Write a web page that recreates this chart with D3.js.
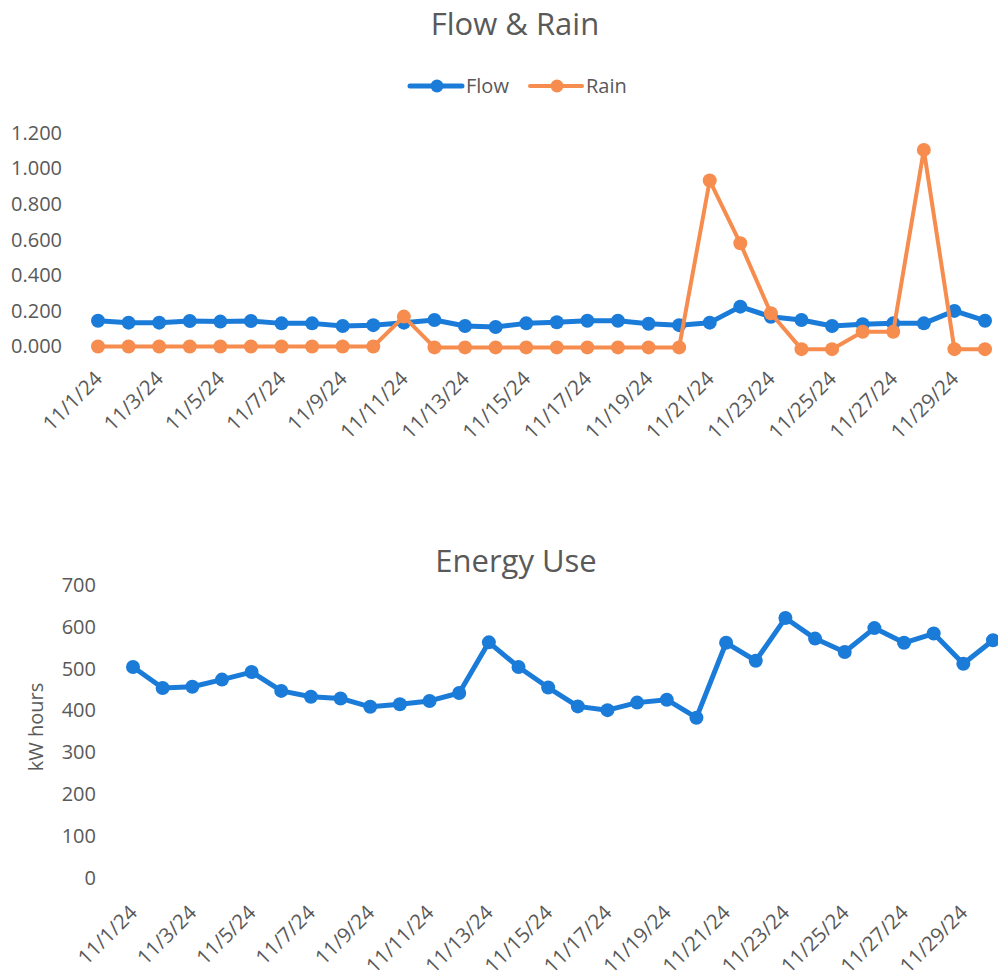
<!DOCTYPE html>
<html><head><meta charset="utf-8">
<script src="https://cdn.jsdelivr.net/npm/d3@7"></script>
<style>body{margin:0;background:#fff;} svg{display:block;font-family:"Open Sans",sans-serif;}</style>
</head><body>
<svg id="c" width="998" height="978"></svg>
<script>
const dates = ["11/1/24","11/2/24","11/3/24","11/4/24","11/5/24","11/6/24","11/7/24","11/8/24","11/9/24","11/10/24","11/11/24","11/12/24","11/13/24","11/14/24","11/15/24","11/16/24","11/17/24","11/18/24","11/19/24","11/20/24","11/21/24","11/22/24","11/23/24","11/24/24","11/25/24","11/26/24","11/27/24","11/28/24","11/29/24","11/30/24"];
const flow = [0.145,0.134,0.134,0.143,0.140,0.143,0.130,0.130,0.115,0.120,0.134,0.149,0.115,0.110,0.130,0.136,0.145,0.145,0.128,0.120,0.134,0.224,0.167,0.149,0.115,0.125,0.130,0.130,0.200,0.145];
const rain = [0,0,0,0,0,0,0,0,0,0,0.168,-0.005,-0.005,-0.005,-0.005,-0.005,-0.005,-0.005,-0.005,-0.005,0.933,0.580,0.187,-0.015,-0.015,0.083,0.083,1.105,-0.015,-0.015];
const energy = [504,454,457,474,492,447,433,429,409,415,423,442,563,504,455,410,401,419,426,383,562,519,621,572,540,597,562,584,512,568];
const flowTicks = [0,0.2,0.4,0.6,0.8,1.0,1.2];
const energyTicks = [0,100,200,300,400,500,600,700];
const tickDates = dates.filter((d,i)=>i%2===0);

const BLUE = "#1a7cd8", ORANGE = "#f68d4f", TXT = "#595959";
const svg = d3.select("#c");

// ---------- Top chart ----------
const x1 = d3.scalePoint().domain(dates).range([98, 985]);
const y1 = d3.scaleLinear().domain([0, 1.2]).range([346.5, 133]);

svg.append("text").attr("x", 515).attr("y", 35).attr("text-anchor","middle")
  .attr("font-size", 31).attr("fill", TXT).text("Flow & Rain");

// legend
const leg = [{name:"Flow", c:BLUE, w:5, x:410},{name:"Rain", c:ORANGE, w:4, x:530}];
leg.forEach(l=>{
  const g = svg.append("g");
  g.append("line").attr("x1", l.x).attr("x2", l.x+52).attr("y1", 86).attr("y2", 86)
    .attr("stroke", l.c).attr("stroke-width", l.w).attr("stroke-linecap","round");
  g.append("circle").attr("cx", l.x+27).attr("cy", 86).attr("r", 6.5).attr("fill", l.c);
  g.append("text").attr("x", l.x+56).attr("y", 93).attr("font-size", 20).attr("fill", TXT).text(l.name);
});

const yAx1 = svg.append("g").attr("transform","translate(62,0)")
  .call(d3.axisLeft(y1).tickValues(flowTicks).tickFormat(d3.format(".3f")).tickSize(0).tickPadding(0));
yAx1.select(".domain").remove();
yAx1.selectAll("text").attr("font-size", 20).attr("fill", TXT).attr("font-family","Open Sans");

const xAx1 = svg.append("g").attr("transform","translate(0,362)")
  .call(d3.axisBottom(x1).tickValues(tickDates).tickSize(0).tickPadding(0));
xAx1.select(".domain").remove();
xAx1.selectAll("text").attr("font-size", 20.5).attr("fill", TXT).attr("font-family","Open Sans")
  .attr("text-anchor","end").attr("dy", 0).attr("transform","translate(5,18) rotate(-45)");

const line1 = (arr)=>d3.line().x((d,i)=>x1(dates[i])).y(d=>y1(d))(arr);
svg.append("path").attr("d", line1(flow)).attr("fill","none").attr("stroke",BLUE).attr("stroke-width",5).attr("stroke-linejoin","round");
svg.append("g").selectAll("circle").data(flow).join("circle")
  .attr("cx",(d,i)=>x1(dates[i])).attr("cy",d=>y1(d)).attr("r",7).attr("fill",BLUE);
svg.append("path").attr("d", line1(rain)).attr("fill","none").attr("stroke",ORANGE).attr("stroke-width",4).attr("stroke-linejoin","round");
svg.append("g").selectAll("circle").data(rain).join("circle")
  .attr("cx",(d,i)=>x1(dates[i])).attr("cy",d=>y1(d)).attr("r",7).attr("fill",ORANGE);

// ---------- Bottom chart ----------
const x2 = d3.scalePoint().domain(dates).range([133, 993]);
const y2 = d3.scaleLinear().domain([0, 700]).range([878, 585]);

svg.append("text").attr("x", 516).attr("y", 572).attr("text-anchor","middle")
  .attr("font-size", 31).attr("fill", TXT).text("Energy Use");

svg.append("text").attr("transform","translate(43,727) rotate(-90)").attr("text-anchor","middle")
  .attr("font-size", 20).attr("fill", TXT).text("kW hours");

const yAx2 = svg.append("g").attr("transform","translate(96,0)")
  .call(d3.axisLeft(y2).tickValues(energyTicks).tickSize(0).tickPadding(0));
yAx2.select(".domain").remove();
yAx2.selectAll("text").attr("font-size", 20).attr("fill", TXT).attr("font-family","Open Sans");

const xAx2 = svg.append("g").attr("transform","translate(0,893)")
  .call(d3.axisBottom(x2).tickValues(tickDates).tickSize(0).tickPadding(0));
xAx2.select(".domain").remove();
xAx2.selectAll("text").attr("font-size", 20.5).attr("fill", TXT).attr("font-family","Open Sans")
  .attr("text-anchor","end").attr("dy", 0).attr("transform","translate(5,21) rotate(-45)");

const line2 = d3.line().x((d,i)=>x2(dates[i])).y(d=>y2(d));
svg.append("path").attr("d", line2(energy)).attr("fill","none").attr("stroke",BLUE).attr("stroke-width",5).attr("stroke-linejoin","round");
svg.append("g").selectAll("circle").data(energy).join("circle")
  .attr("cx",(d,i)=>x2(dates[i])).attr("cy",d=>y2(d)).attr("r",7).attr("fill",BLUE);
</script>
</body></html>
